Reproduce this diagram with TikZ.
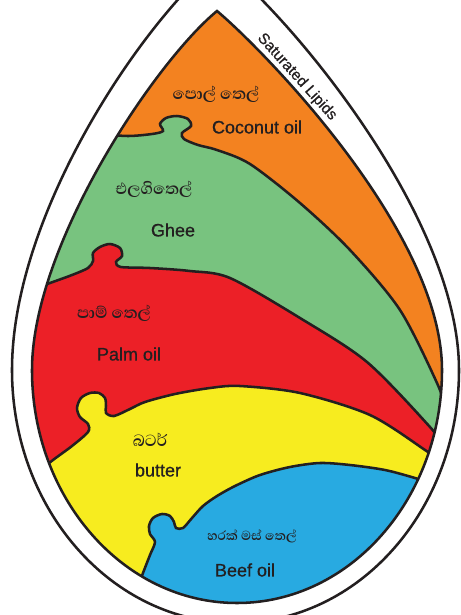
\documentclass[tikz,border=0pt]{standalone}
\usepackage{fontspec}
\setmainfont{Liberation Sans}
\newfontfamily\labelfont[FakeBold=0.8]{Liberation Sans}
\newfontfamily\sinhalafont[Script=Sinhala]{Abhaya Libre}
\definecolor{coconut}{RGB}{243,130,32}
\definecolor{ghee}{RGB}{120,195,127}
\definecolor{palm}{RGB}{236,32,39}
\definecolor{butter}{RGB}{247,236,31}
\definecolor{beef}{RGB}{40,170,225}
\definecolor{ink}{RGB}{35,31,32}

\begin{document}
\begin{tikzpicture}[
    x=0.75pt, y=-0.75pt,
    band/.style={draw=ink, line width=1.9pt, fill=#1},
    rim/.style={draw=ink, line width=1.9pt},
    oilname/.style={text=ink, inner sep=0pt, font=\labelfont\fontsize{13.5}{15}\selectfont},
    oilsinhala/.style={text=ink, inner sep=0pt, font=\sinhalafont\bfseries\fontsize{15.5}{17}\selectfont}
]
    \useasboundingbox (0,0) rectangle (461,615);
    \clip (0,0) rectangle (461,615);

    \begin{scope}
        \clip (217,11) .. controls (155,62) and (32,245) .. (32,370)
            .. controls (32,498.7) and (123.8,603) .. (237,603)
            .. controls (350.2,603) and (442,498.7) .. (442,370)
            .. controls (442,230) and (259,46) .. cycle;
        \fill[coconut] (0,0) rectangle (461,615);
        \filldraw[band=ghee] plot[smooth] coordinates {(100,134) (128,136) (152,134) (163,131) (160,124) (166,118) (177,116) (188,119) (191,126) (182,133) (184,139) (198,145) (217,150) (250,164) (300,203) (350,250) (400,310) (437,383) (448,415)}
            -- (461,620) -- (0,620) -- (0,134) -- cycle;
        \filldraw[band=palm] plot[smooth] coordinates {(25,292) (50,283) (72,275) (88,268) (93,261) (93,253) (100,247) (110,244) (120,248) (122,256) (116,262) (121,267) (150,268) (190,271) (230,278) (300,318) (367,362) (430,427) (445,448)}
            -- (461,620) -- (0,620) -- (0,292) -- cycle;
        \filldraw[band=butter] plot[smooth] coordinates {(30,478) (53,460) (72,446) (88,432) (88,424) (80,417) (77,408) (81,398) (90,393) (99,393) (105,398) (106,406) (106,413) (114,416) (130,409) (145,402) (175,394) (210,388) (240,386) (300,393) (370,415) (425,450) (445,465)}
            -- (461,620) -- (0,620) -- (0,478) -- cycle;
        \filldraw[band=beef] plot[smooth] coordinates {(135,595) (143,573) (150,555) (155,542) (150,534) (149,526) (153,518) (162,514) (170,516) (174,522) (176,528) (183,528) (192,518) (203,506) (217,496) (235,486) (260,475) (290,467) (320,463) (350,465) (385,470) (415,478) (440,486)}
            -- (461,620) -- (0,620) -- (0,595) -- cycle;
    \end{scope}

    \draw[rim] (217,11) .. controls (155,62) and (32,245) .. (32,370)
        .. controls (32,498.7) and (123.8,603) .. (237,603)
        .. controls (350.2,603) and (442,498.7) .. (442,370)
        .. controls (442,230) and (259,46) .. cycle;
    \draw[rim] (218,-40) .. controls (140,25) and (12,215) .. (12,370)
        .. controls (12,509.7) and (112.1,623) .. (235.5,623)
        .. controls (358.9,623) and (459,509.7) .. (459,370)
        .. controls (459,215) and (285,10) .. cycle;

    \node[oilname, rotate=-48, font=\labelfont\fontsize{11.5}{13}\selectfont] (lipids) at (297,77) {Saturated Lipids};

    \node[oilsinhala] (coconutsi) at (216,94) {පොල් තෙල්};
    \node[oilname] (coconut) at (257,127) {Coconut oil};
    \node[oilsinhala] (gheesi) at (154,189) {එලගිතෙල්};
    \node[oilname] (ghee) at (173,230) {Ghee};
    \node[oilsinhala] (palmsi) at (114,313) {පාම් තෙල්};
    \node[oilname] (palm) at (129,354) {Palm oil};
    \node[oilsinhala] (buttersi) at (150,440) {බටර්};
    \node[oilname] (butter) at (158,470) {butter};
    \node[oilsinhala, font=\sinhalafont\bfseries\fontsize{12.5}{14}\selectfont] (beefsi) at (252,536) {හරක් මස් තෙල්};
    \node[oilname] (beef) at (245,570) {Beef oil};
\end{tikzpicture}
\end{document}
